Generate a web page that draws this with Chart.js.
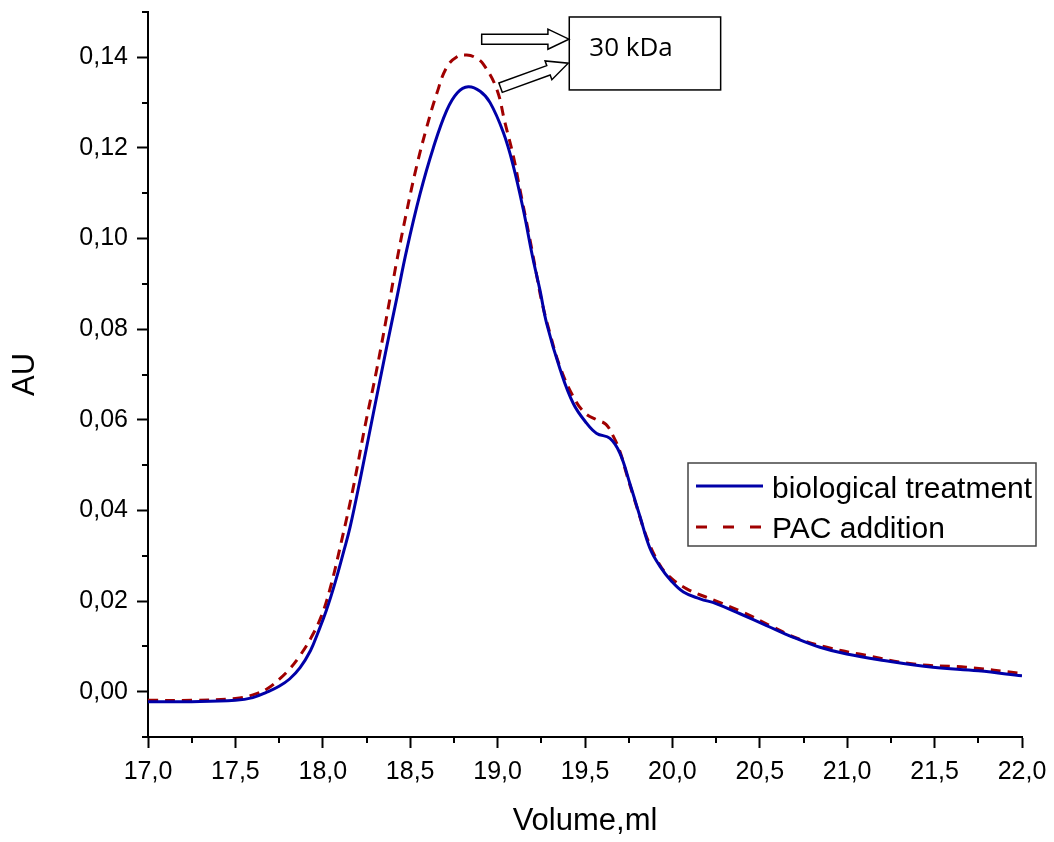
<!DOCTYPE html>
<html><head><meta charset="utf-8">
<script src="https://cdn.jsdelivr.net/npm/chart.js@4"></script>
<style>html,body{margin:0;padding:0;background:#fff}#wrap{width:1054px;height:842px}</style>
</head><body><div id="wrap"><canvas id="c" width="1054" height="842"></canvas></div>
<script>
// ---- data ----
const bioX = [17.0,17.25,17.5,17.6,17.68,17.75,17.81,17.87,17.93,17.97,18.02,18.07,18.12,18.156,18.213,18.289,18.366,18.423,18.48,18.556,18.632,18.709,18.77,18.832,18.9,18.957,19.033,19.09,19.147,19.2,19.243,19.281,19.357,19.433,19.51,19.567,19.643,19.7,19.757,19.815,19.872,19.93,19.99,20.063,20.158,20.253,20.387,20.539,20.692,20.844,20.997,21.21,21.49,21.75,22.0];
const bioY = [-0.0022,-0.0022,-0.0019,-0.0013,-0.0001,0.0012,0.0028,0.0053,0.0091,0.0128,0.0179,0.0240,0.0310,0.0363,0.0467,0.0614,0.0762,0.0868,0.0975,0.1098,0.1200,0.1283,0.1322,0.1335,0.1325,0.1300,0.1234,0.1160,0.1064,0.0960,0.0885,0.0812,0.0712,0.0636,0.0592,0.0570,0.0559,0.0526,0.0459,0.0386,0.0316,0.0276,0.0246,0.0220,0.0205,0.0194,0.0172,0.0146,0.0120,0.0098,0.0083,0.0069,0.0054,0.0046,0.0035];
const pacX = [17.0,17.25,17.5,17.6,17.68,17.75,17.81,17.87,17.93,17.99,18.04,18.108,18.175,18.241,18.308,18.384,18.423,18.48,18.537,18.594,18.652,18.709,18.77,18.823,18.87,18.918,18.995,19.042,19.09,19.128,19.185,19.224,19.252,19.3,19.357,19.433,19.5,19.567,19.62,19.66,19.7,19.738,19.796,19.853,19.92,19.98,20.082,20.244,20.406,20.558,20.72,20.883,21.07,21.38,21.68,22.0];
const pacY = [-0.0019,-0.0019,-0.0015,-0.0007,0.0006,0.0027,0.0050,0.0080,0.0117,0.0165,0.0225,0.0334,0.0452,0.0585,0.0710,0.0867,0.0950,0.1060,0.1160,0.1245,0.1320,0.1378,0.1402,0.1405,0.1400,0.1385,0.1330,0.1256,0.1182,0.1108,0.0998,0.0918,0.0862,0.0790,0.0717,0.0651,0.0615,0.0600,0.0590,0.0565,0.0530,0.0480,0.0408,0.0341,0.0285,0.0255,0.0227,0.0201,0.0175,0.0146,0.0117,0.0098,0.0083,0.0061,0.0054,0.0040];
const seriesNames = ['biological treatment','PAC addition'];
const xMajor = [17.0,17.5,18.0,18.5,19.0,19.5,20.0,20.5,21.0,21.5,22.0];
const xMinor = [17.25,17.75,18.25,18.75,19.25,19.75,20.25,20.75,21.25,21.75];
const yMajor = [0.00,0.02,0.04,0.06,0.08,0.10,0.12,0.14];
const yMinor = [-0.01,0.01,0.03,0.05,0.07,0.09,0.11,0.13,0.15];
const annotText = '30 kDa';
// annotation anchors in data units
const boxX = [19.41, 20.276], boxY = [0.1328, 0.1489];
const arrows = [[18.909,0.1440,19.408,0.1440],[19.017,0.1333,19.404,0.1387]];

const fmt = (v,d) => Number(v).toFixed(d).replace('.', ',');
const FONT = "'Liberation Sans', Arial, sans-serif";

const minorTicks = {
  id:'minorTicks',
  afterDraw(chart){
    const {ctx, scales:{x,y}, chartArea:a} = chart;
    ctx.save(); ctx.strokeStyle='#000'; ctx.lineWidth=2;
    xMinor.forEach(v=>{const p=Math.round(x.getPixelForValue(v)); ctx.beginPath(); ctx.moveTo(p,a.bottom); ctx.lineTo(p,a.bottom+6); ctx.stroke();});
    yMinor.forEach(v=>{const p=Math.round(y.getPixelForValue(v)); ctx.beginPath(); ctx.moveTo(a.left,p); ctx.lineTo(a.left-6,p); ctx.stroke();});
    ctx.restore();
  }
};

function blockArrow(ctx,x0,y0,x1,y1,sh,hh,hl){
  const dx=x1-x0, dy=y1-y0, L=Math.hypot(dx,dy), ux=dx/L, uy=dy/L, nx=-uy, ny=ux;
  const bx=x1-ux*hl, by=y1-uy*hl;
  ctx.beginPath();
  ctx.moveTo(x0+nx*sh,y0+ny*sh);
  ctx.lineTo(bx+nx*sh,by+ny*sh);
  ctx.lineTo(bx+nx*hh,by+ny*hh);
  ctx.lineTo(x1,y1);
  ctx.lineTo(bx-nx*hh,by-ny*hh);
  ctx.lineTo(bx-nx*sh,by-ny*sh);
  ctx.lineTo(x0-nx*sh,y0-ny*sh);
  ctx.closePath();
  ctx.fillStyle='#fff'; ctx.fill();
  ctx.strokeStyle='#000'; ctx.lineWidth=1.5; ctx.stroke();
}

const annot = {
  id:'annot',
  afterDraw(chart){
    const {ctx, scales:{x,y}} = chart;
    ctx.save();
    const x0=x.getPixelForValue(boxX[0]), x1=x.getPixelForValue(boxX[1]);
    const y0=y.getPixelForValue(boxY[1]), y1=y.getPixelForValue(boxY[0]);
    ctx.fillStyle='#fff'; ctx.fillRect(x0,y0,x1-x0,y1-y0);
    ctx.strokeStyle='#000'; ctx.lineWidth=1.5; ctx.strokeRect(x0,y0,x1-x0,y1-y0);
    ctx.fillStyle='#000'; ctx.font="26px 'Open Sans', 'Noto Sans', sans-serif";
    ctx.textBaseline='alphabetic'; ctx.textAlign='left';
    ctx.fillText(annotText, x0+20, y0+39);
    arrows.forEach(a=>blockArrow(ctx,x.getPixelForValue(a[0]),y.getPixelForValue(a[1]),x.getPixelForValue(a[2]),y.getPixelForValue(a[3]),5,10,21));
    ctx.restore();
  }
};

const legendBox = {
  id:'legendBox',
  afterDraw(chart){
    const {ctx} = chart;
    ctx.save();
    const L=688, T=463, W=348, H=83;
    ctx.fillStyle='#fff'; ctx.fillRect(L,T,W,H);
    ctx.strokeStyle='#444'; ctx.lineWidth=1.5; ctx.strokeRect(L,T,W,H);
    const rows=[486,527], bases=[498,537.5];
    chart.data.datasets.forEach((ds,i)=>{
      ctx.strokeStyle=ds.borderColor; ctx.lineWidth=3;
      ctx.setLineDash(i===1?[11,16]:[]);
      ctx.beginPath(); ctx.moveTo(696,rows[i]); ctx.lineTo(763,rows[i]); ctx.stroke();
      ctx.setLineDash([]);
      ctx.fillStyle='#000'; ctx.font="30px "+FONT; ctx.textBaseline='alphabetic'; ctx.textAlign='left';
      ctx.fillText(ds.label, 772, bases[i]);
    });
    ctx.restore();
  }
};

new Chart(document.getElementById('c'), {
  type:'line',
  data:{datasets:[
    {label:seriesNames[0], data:bioX.map((v,i)=>({x:v,y:bioY[i]})), borderColor:'#0000A8', borderWidth:3, pointRadius:0, tension:0.4, fill:false},
    {label:seriesNames[1], data:pacX.map((v,i)=>({x:v,y:pacY[i]})), borderColor:'#A00000', borderWidth:3, borderDash:[10,7], pointRadius:0, tension:0.4, fill:false}
  ]},
  options:{
    responsive:false, animation:false, devicePixelRatio:1,
    layout:{padding:{top:12,right:32,left:0,bottom:0}},
    plugins:{legend:{display:false}, tooltip:{enabled:false}},
    scales:{
      x:{type:'linear', min:17, max:22,
        afterFit(s){s.height=105; s.paddingLeft=0; s.paddingRight=0;},
        afterBuildTicks(s){s.ticks=xMajor.map(v=>({value:v}));},
        ticks:{callback:v=>fmt(v,1), font:{family:FONT,size:25}, color:'#000', padding:9, maxRotation:0, autoSkip:false},
        grid:{drawOnChartArea:false, drawTicks:true, tickLength:11, tickColor:'#000', tickWidth:2},
        border:{color:'#000', width:2},
        title:{display:true, text:'Volume,ml', font:{family:FONT,size:31}, color:'#000', padding:{top:0,bottom:2}}
      },
      y:{type:'linear', min:-0.01, max:0.15,
        afterFit(s){s.width=148; s.paddingTop=0; s.paddingBottom=0;},
        afterBuildTicks(s){s.ticks=yMajor.map(v=>({value:v}));},
        ticks:{callback:v=>fmt(v,2), font:{family:FONT,size:25}, color:'#000', padding:9, autoSkip:false},
        grid:{drawOnChartArea:false, drawTicks:true, tickLength:11, tickColor:'#000', tickWidth:2},
        border:{color:'#000', width:2},
        title:{display:true, text:'AU', font:{family:FONT,size:31}, color:'#000', padding:{top:7,bottom:0}}
      }
    }
  },
  plugins:[minorTicks, annot, legendBox]
});
</script></body></html>
